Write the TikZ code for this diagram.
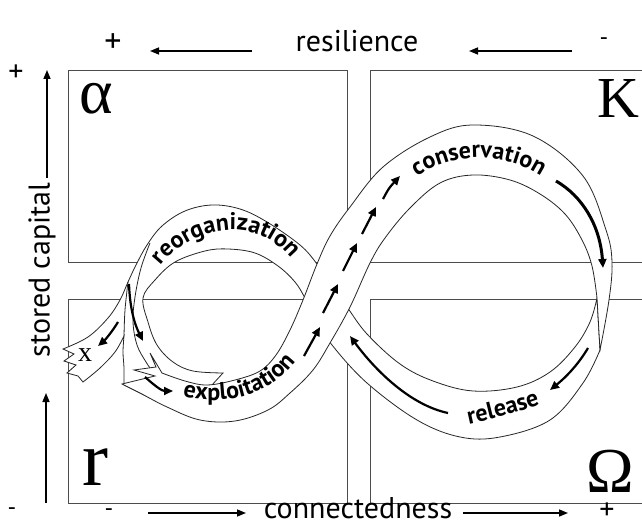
\documentclass[tikz,border=0pt]{standalone}
\usepackage{fontspec}
\setmainfont{PT Sans}
\newfontfamily\phasefont{Liberation Serif}
\usetikzlibrary{arrows.meta, decorations.text}

\tikzset{
  panel/.style={draw=black!70, line width=0.9pt},
  band/.style={draw=black!85, fill=white, line width=0.8pt},
  seam/.style={draw=black!85, line width=0.8pt},
  flow/.style={line width=2.2pt, -{Triangle[length=9pt, width=8pt]}},
  axisarrow/.style={line width=1.5pt, -{Triangle[length=9pt, width=7pt]}},
  phase/.style={font=\phasefont\fontsize{#1}{#1}\selectfont, inner sep=0pt},
  axislabel/.style={font=\fontsize{30}{30}\selectfont, inner sep=0pt},
  sign/.style={font=\fontsize{#1}{#1}\selectfont, inner sep=0pt},
  bandtext/.style={decorate, decoration={text along path, text align=center,
      text={|\bfseries\fontsize{24}{24}\selectfont|#1}}},
}

\begin{document}
\begin{tikzpicture}[x=1pt, y=-1pt]
    \clip (0,0) rectangle (642,526);

    % Quadrant panels
    \draw[panel] (68,70) rectangle (347,262);
    \draw[panel] (370,70) rectangle (680,262);
    \draw[panel] (68,299) rectangle (347,503);
    \draw[panel] (370,299) rectangle (680,503);

    % Phase letters
    \node[phase=64, anchor=base west] (alpha) at (79,114) {α};
    \node[phase=58, anchor=base east] (kay) at (640,118) {K};
    \node[phase=78, anchor=base west] (arr) at (82,485) {r};
    \node[phase=64, anchor=base east] (omega) at (634,492) {Ω};

    % Resilience axis
    \node[axislabel, anchor=base] (resil) at (357,52) {resilience};
    \node[sign=34] (resplus) at (113,43) {+};
    \node[sign=24] (resminus) at (604,42) {-};
    \coordinate (resA) at (252,51);
    \coordinate (resB) at (150,51);
    \coordinate (resC) at (572,51);
    \coordinate (resD) at (469,51);
    \draw[axisarrow] (resA) -- (resB);
    \draw[axisarrow] (resC) -- (resD);

    % Connectedness axis
    \node[axislabel, anchor=base] (conn) at (358,518) {connectedness};
    \node[sign=24] (connminus) at (109,513) {-};
    \node[sign=30] (connplus) at (607,511) {+};
    \coordinate (conA) at (148,513);
    \coordinate (conB) at (246,513);
    \coordinate (conC) at (463,513);
    \coordinate (conD) at (568,513);
    \draw[axisarrow] (conA) -- (conB);
    \draw[axisarrow] (conC) -- (conD);

    % Stored capital axis
    \node[axislabel, rotate=90] (capital) at (42,270) {stored capital};
    \node[sign=30] (capplus) at (16,73) {+};
    \node[sign=24] (capminus) at (12,512) {-};
    \coordinate (capA) at (47,178);
    \coordinate (capB) at (47,70);
    \coordinate (capC) at (46,503);
    \coordinate (capD) at (46,393);
    \draw[axisarrow] (capA) -- (capB);
    \draw[axisarrow] (capC) -- (capD);

    % Release and reorganization band (passes under the diagonal)
    \path[band] plot[smooth, tension=0.6] coordinates {(597,298) (590,322) (575,347) (550,372) (517,387) (473,391) (433,381) (400,364) (367,334) (347,307) (330,284) (317,264) (300,245) (267,222) (240,209) (212,205) (185,211) (162,226) (147,245) (136,265) (128,282) (120,300) (108,318) (88,337) (63,349)}
        -- (74,354) -- (64,361) -- (76,365) -- (67,373) -- (78,376) -- (83,382)
        -- plot[smooth, tension=0.6] coordinates {(83,382) (100,368) (115,352) (124,336)}
        -- plot[smooth, tension=0.6] coordinates {(124,336) (123,352) (124,368) (124,385)}
        -- (150,398) -- (200,398) -- (223,373)
        -- plot[smooth, tension=0.6] coordinates {(223,373) (193,371) (173,362) (157,345) (148,322) (143,298) (155,280) (175,262) (205,251) (228,249) (255,253) (278,266) (295,282) (305,298) (318,322) (332,345) (367,383) (417,420) (460,437) (500,437) (550,420) (583,383) (600,350)}
        -- cycle;
    \draw[seam] plot[smooth, tension=0.6] coordinates {(150,243) (141,268) (135,297) (133,322) (137,345) (146,362) (153,372)};
    \draw[seam] plot[smooth, tension=0.6] coordinates {(128,282) (125,310) (124,336)};

    % Exploitation and conservation band
    \path[band] plot[smooth, tension=0.6] coordinates {(162,373) (185,381) (207,385) (235,380) (260,371) (276,355) (290,330) (303,300) (317,264) (330,236) (350,207) (383,167) (430,137) (473,125) (533,136) (583,176) (606,230) (612,262) (609,300) (600,350)}
        -- plot[smooth, tension=0.6] coordinates {(597,298) (592,266) (582,240) (565,214) (540,194) (510,180) (473,175) (440,183) (410,208) (385,238) (370,263) (350,307) (330,343) (313,370) (290,393) (268,410) (235,421) (200,420) (167,407) (140,393) (122,384)}
        -- (155,376) -- (134,370) -- (156,367) -- (150,353) -- cycle;

    % Phase names along the band
    \path[bandtext=reorganization] (146,292) .. controls (172,222) and (272,200) .. (306,285);
    \path[bandtext=conservation] (393,196) .. controls (440,145) and (520,145) .. (564,196);
    \path[bandtext=exploitation] (162,390) .. controls (222,413) and (282,396) .. (307,343);
    \path[bandtext=release] (450,428) .. controls (485,421) and (525,412) .. (558,397);

    % Flow arrows
    \draw[flow] (304,356) -- (320,327);
    \draw[flow] (323,313) -- (338,284);
    \draw[flow] (343,271) -- (357,243);
    \draw[flow] (362,234) -- (376,207);
    \draw[flow] (383,199) .. controls (389,188) .. (400,176);
    \draw[flow, line width=3pt] (556,181) .. controls (582,196) and (600,225) .. (603,268);
    \draw[flow] (588,348) .. controls (578,365) and (565,378) .. (550,390);
    \draw[flow] (448,413) .. controls (410,405) and (375,370) .. (350,336);
    \draw[flow] (129,284) .. controls (130,310) and (135,325) .. (143,341);
    \draw[flow] (118,322) .. controls (112,332) and (105,340) .. (98,346);
    \draw[flow] (145,377) .. controls (155,386) and (162,391) .. (173,391);

    % Exit
    \node[phase=28] (exit) at (85,355) {x};
\end{tikzpicture}
\end{document}
